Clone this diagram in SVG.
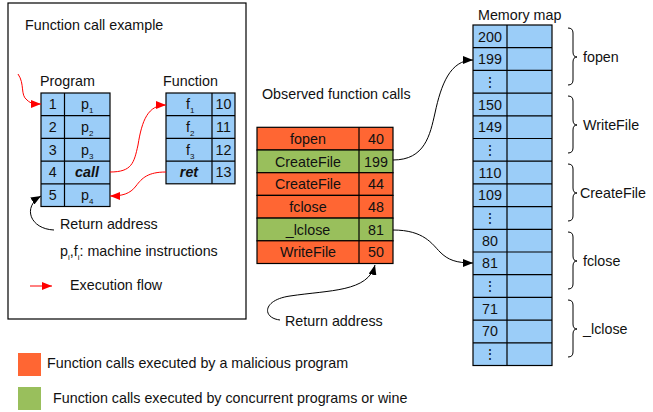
<svg xmlns="http://www.w3.org/2000/svg" width="653" height="412" viewBox="0 0 653 412">
  <style>
    text { font-family: "Liberation Sans", Arial, sans-serif; font-size: 14.3px; fill: #111; }
    .c { text-anchor: middle; }
    .bi { font-weight: bold; font-style: italic; }
    .sub { font-size: 8px; }
    .blue { fill: #9BCDF8; stroke: #000; stroke-width: 1.2; }
    .mal { fill: #FF6633; stroke: #000; stroke-width: 1.2; }
    .con { fill: #99BF5C; stroke: #000; stroke-width: 1.2; }
    .ln { stroke: #000; stroke-width: 1.2; fill: none; }
    .red { stroke: #FF0000; stroke-width: 1; fill: none; marker-end: url(#ah-red); }
    .blk { stroke: #000; stroke-width: 1; fill: none; marker-end: url(#ah-blk); }
    .brace { stroke: #000; stroke-width: 1; fill: none; }
  </style>
  <defs>
    <marker id="ah-red" viewBox="0 0 10 8" refX="10" refY="4" markerWidth="10" markerHeight="8" markerUnits="userSpaceOnUse" orient="auto">
      <path d="M0,0 L10,4 L0,8 Z" fill="#FF0000"/>
    </marker>
    <marker id="ah-blk" viewBox="0 0 10 8" refX="10" refY="4" markerWidth="10" markerHeight="8" markerUnits="userSpaceOnUse" orient="auto">
      <path d="M0,0 L10,4 L0,8 Z" fill="#000"/>
    </marker>
  </defs>

  <rect width="653" height="412" fill="#fff"/>

  <!-- Function call example panel -->
  <g id="example-panel">
    <rect x="8" y="3" width="238" height="316" fill="none" stroke="#000" stroke-width="1.2"/>
    <text x="25" y="30">Function call example</text>
  </g>

  <g id="program">
    <text x="40" y="86">Program</text>
    <rect class="blue" x="41" y="93" width="69" height="113.5"/>
    <path class="ln" d="M64.5,93 V206.5 M41,115.7 H110 M41,138.4 H110 M41,161.1 H110 M41,183.8 H110"/>
    <text class="c" x="52.7" y="109">1</text>
    <text class="c" x="52.7" y="132">2</text>
    <text class="c" x="52.7" y="154.5">3</text>
    <text class="c" x="52.7" y="177">4</text>
    <text class="c" x="52.7" y="200">5</text>
    <text x="81" y="109">p<tspan class="sub" dy="4">1</tspan></text>
    <text x="81" y="132">p<tspan class="sub" dy="4">2</tspan></text>
    <text x="81" y="154.5">p<tspan class="sub" dy="4">3</tspan></text>
    <text class="c bi" x="87" y="177">call</text>
    <text x="81" y="200">p<tspan class="sub" dy="4">4</tspan></text>
  </g>

  <g id="function">
    <text x="163" y="86">Function</text>
    <rect class="blue" x="166" y="93" width="69" height="90.8"/>
    <path class="ln" d="M212,93 V183.8 M166,115.7 H235 M166,138.4 H235 M166,161.1 H235"/>
    <text x="186" y="109">f<tspan class="sub" dy="4">1</tspan></text>
    <text x="186" y="132">f<tspan class="sub" dy="4">2</tspan></text>
    <text x="186" y="154.5">f<tspan class="sub" dy="4">3</tspan></text>
    <text class="c bi" x="189" y="177">ret</text>
    <text class="c" x="223.5" y="109">10</text>
    <text class="c" x="223.5" y="132">11</text>
    <text class="c" x="223.5" y="154.5">12</text>
    <text class="c" x="223.5" y="177">13</text>
  </g>

  <g id="example-notes">
    <text x="60" y="229">Return address</text>
    <text x="60" y="256">p<tspan class="sub" dy="4">i</tspan><tspan dy="-4">,f</tspan><tspan class="sub" dy="4">i</tspan><tspan dy="-4">: machine instructions</tspan></text>
    <text x="70" y="290">Execution flow</text>
  </g>

  <!-- Observed function calls -->
  <g id="observed">
    <text x="262" y="99">Observed function calls</text>
    <rect class="mal" x="257" y="127.3" width="136" height="22.7"/>
    <rect class="con" x="257" y="150" width="136" height="22.7"/>
    <rect class="mal" x="257" y="172.7" width="136" height="22.7"/>
    <rect class="mal" x="257" y="195.4" width="136" height="22.7"/>
    <rect class="con" x="257" y="218.1" width="136" height="22.7"/>
    <rect class="mal" x="257" y="240.8" width="136" height="22.7"/>
    <path class="ln" d="M359,127.3 V263.5"/>
    <text class="c" x="308" y="144">fopen</text>
    <text class="c" x="308" y="166.5">CreateFile</text>
    <text class="c" x="308" y="189">CreateFile</text>
    <text class="c" x="308" y="212">fclose</text>
    <text class="c" x="308" y="234.5">_lclose</text>
    <text class="c" x="308" y="257">WriteFile</text>
    <text class="c" x="376" y="144">40</text>
    <text class="c" x="376" y="166.5">199</text>
    <text class="c" x="376" y="189">44</text>
    <text class="c" x="376" y="212">48</text>
    <text class="c" x="376" y="234.5">81</text>
    <text class="c" x="376" y="257">50</text>
    <text x="285" y="326">Return address</text>
  </g>

  <!-- Memory map -->
  <g id="memory-map">
    <text x="478" y="20">Memory map</text>
    <rect class="blue" x="473" y="25" width="79" height="340.5"/>
    <path class="ln" d="M507,25 V365.5
      M473,47.7 H552 M473,70.4 H552 M473,93.1 H552 M473,115.8 H552 M473,138.5 H552
      M473,161.2 H552 M473,183.9 H552 M473,206.6 H552 M473,229.3 H552 M473,252 H552
      M473,274.7 H552 M473,297.4 H552 M473,320.1 H552 M473,342.8 H552"/>
    <text class="c" x="490" y="41.5">200</text>
    <text class="c" x="490" y="64">199</text>
    <text class="c" x="490" y="87">⋮</text>
    <text class="c" x="490" y="109.5">150</text>
    <text class="c" x="490" y="132">149</text>
    <text class="c" x="490" y="155">⋮</text>
    <text class="c" x="490" y="177.5">110</text>
    <text class="c" x="490" y="200">109</text>
    <text class="c" x="490" y="223">⋮</text>
    <text class="c" x="490" y="245.5">80</text>
    <text class="c" x="490" y="268">81</text>
    <text class="c" x="490" y="291">⋮</text>
    <text class="c" x="490" y="313.5">71</text>
    <text class="c" x="490" y="336">70</text>
    <text class="c" x="490" y="359">⋮</text>
  </g>

  <g id="brace-fopen">
    <path class="brace" d="M568,28 Q573,28 573,33 V52 Q573,57 577,57 Q573,57 573,62 V80 Q573,85 568,85"/>
    <text x="583" y="62">fopen</text>
  </g>
  <g id="brace-writefile">
    <path class="brace" d="M568,96 Q573,96 573,101 V120 Q573,125 577,125 Q573,125 573,130 V148 Q573,153 568,153"/>
    <text x="583" y="130">WriteFile</text>
  </g>
  <g id="brace-createfile">
    <path class="brace" d="M568,164 Q573,164 573,169 V188 Q573,193 577,193 Q573,193 573,198 V216 Q573,221 568,221"/>
    <text x="580" y="198">CreateFile</text>
  </g>
  <g id="brace-fclose">
    <path class="brace" d="M568,232 Q573,232 573,237 V256 Q573,261 577,261 Q573,261 573,266 V284 Q573,289 568,289"/>
    <text x="583" y="266">fclose</text>
  </g>
  <g id="brace-lclose">
    <path class="brace" d="M568,300 Q573,300 573,305 V324 Q573,329 577,329 Q573,329 573,334 V352 Q573,357 568,357"/>
    <text x="583" y="334">_lclose</text>
  </g>

  <!-- Legend -->
  <g id="legend">
    <rect x="18" y="353" width="23" height="23" fill="#FF6633"/>
    <text x="47" y="368">Function calls executed by a malicious program</text>
    <rect x="18" y="387" width="23" height="23" fill="#99BF5C"/>
    <text x="53" y="403">Function calls executed by concurrent programs or wine</text>
  </g>

  <!-- Connectors -->
  <g id="connectors">
    <path class="red" d="M18,74 C25,84 20,95 27,100 C31,104 35,104 41,104"/>
    <path class="red" d="M110,172 C132,172 134,163 138,145 C142,120 148,105 166,105"/>
    <path class="red" d="M166,172 C148,172 142,178 136,186 C130,194 122,196 110,196"/>
    <path class="blk" d="M54,230 C30,229 22,207 41,196"/>
    <path class="red" d="M30,286 L52,286"/>
    <path class="blk" d="M393,160 C425,160 430,135 435,113 C441,85 450,60 473,60"/>
    <path class="blk" d="M393,230 C424,230 432,244 440,252 C448,260 456,263 473,263"/>
    <path class="blk" d="M280,320 C262,318 262,300 290,296 C330,290 368,292 375,265"/>
  </g>
</svg>
